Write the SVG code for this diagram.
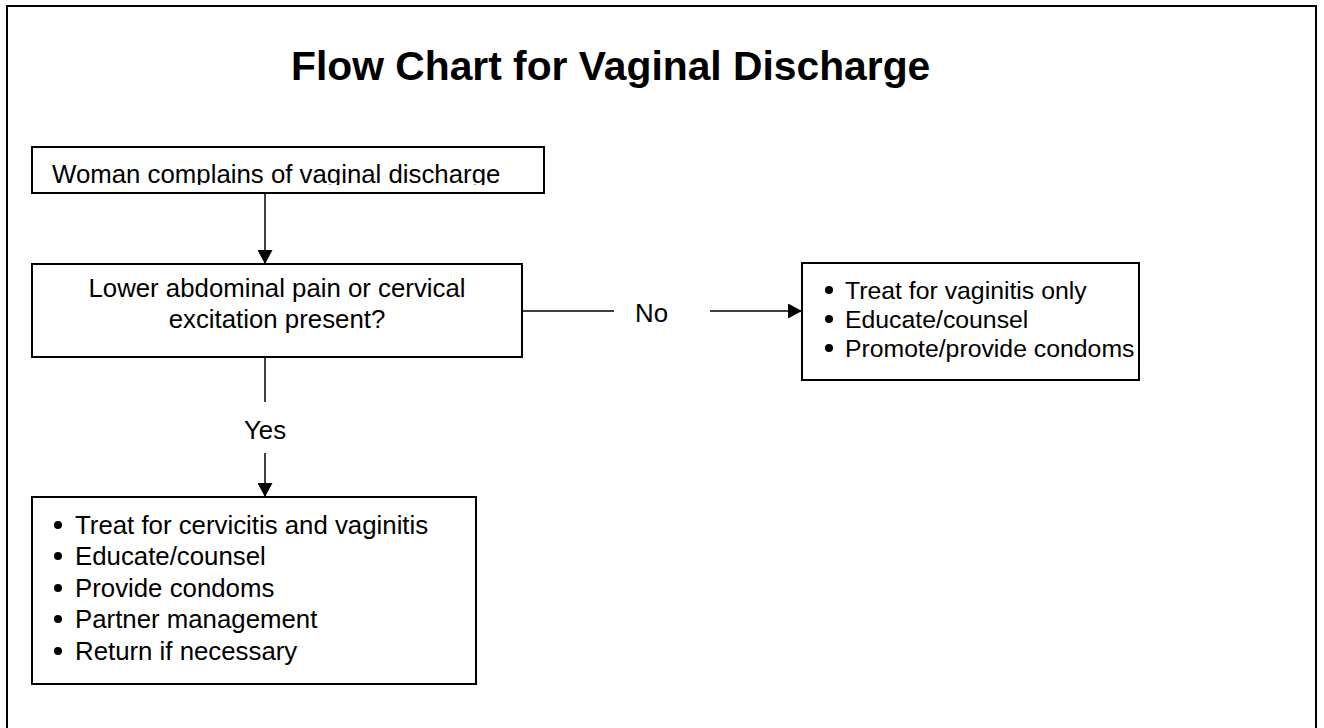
<svg xmlns="http://www.w3.org/2000/svg" width="1324" height="728" viewBox="0 0 1324 728">
  <style>
    .box { fill: #ffffff; stroke: #000000; stroke-width: 2; }
    .frame { fill: none; stroke: #000000; stroke-width: 2; }
    .t { font-family: "Liberation Sans", Arial, sans-serif; font-size: 25.8px; fill: #000000; }
    .s { font-family: "Liberation Sans", Arial, sans-serif; font-size: 24.8px; fill: #000000; }
    .title { font-family: "Liberation Sans", Arial, sans-serif; font-size: 40.8px; font-weight: bold; fill: #000000; }
    .conn { fill: none; stroke: #000000; stroke-width: 1.5; }
    .dot { fill: #000000; }
  </style>
  <defs>
    <marker id="arrow" markerUnits="userSpaceOnUse" markerWidth="15" markerHeight="15" refX="14" refY="7.5" orient="auto">
      <path d="M0,0 L14,7.5 L0,15 Z" fill="#000000"/>
    </marker>
    <clipPath id="clip1">
      <rect x="33" y="148" width="510" height="37"/>
    </clipPath>
  </defs>
  <rect class="frame" x="7" y="6" width="1309" height="800"/>
  <text class="title" x="291" y="80">Flow Chart for Vaginal Discharge</text>

  <g id="connectors">
    <path class="conn" d="M265,193 V264" marker-end="url(#arrow)"/>
    <path class="conn" d="M522,311 H614"/>
    <path class="conn" d="M710,311 H802" marker-end="url(#arrow)"/>
    <text class="t" x="651.5" y="322" text-anchor="middle">No</text>
    <path class="conn" d="M265,357 V402"/>
    <text class="t" x="265" y="439" text-anchor="middle">Yes</text>
    <path class="conn" d="M265,453 V497" marker-end="url(#arrow)"/>
  </g>

  <g id="node-start">
    <rect class="box" x="32" y="147" width="512" height="46"/>
    <text class="t" x="52" y="183" clip-path="url(#clip1)">Woman complains of vaginal discharge</text>
  </g>

  <g id="node-question">
    <rect class="box" x="32" y="264" width="490" height="93"/>
    <text class="t" x="277" y="297" text-anchor="middle">Lower abdominal pain or cervical</text>
    <text class="t" x="277" y="328" text-anchor="middle">excitation present?</text>
  </g>

  <g id="node-no">
    <rect class="box" x="802" y="263" width="337" height="117"/>
    <circle class="dot" cx="829" cy="290" r="4"/>
    <text class="s" x="845" y="299">Treat for vaginitis only</text>
    <circle class="dot" cx="829" cy="319" r="4"/>
    <text class="s" x="845" y="328">Educate/counsel</text>
    <circle class="dot" cx="829" cy="348" r="4"/>
    <text class="s" x="845" y="357">Promote/provide condoms</text>
  </g>

  <g id="node-yes">
    <rect class="box" x="32" y="497" width="444" height="187"/>
    <circle class="dot" cx="58" cy="525" r="4"/>
    <text class="t" x="75" y="534">Treat for cervicitis and vaginitis</text>
    <circle class="dot" cx="58" cy="556" r="4"/>
    <text class="t" x="75" y="565">Educate/counsel</text>
    <circle class="dot" cx="58" cy="588" r="4"/>
    <text class="t" x="75" y="597">Provide condoms</text>
    <circle class="dot" cx="58" cy="619" r="4"/>
    <text class="t" x="75" y="628">Partner management</text>
    <circle class="dot" cx="58" cy="651" r="4"/>
    <text class="t" x="75" y="660">Return if necessary</text>
  </g>
</svg>
